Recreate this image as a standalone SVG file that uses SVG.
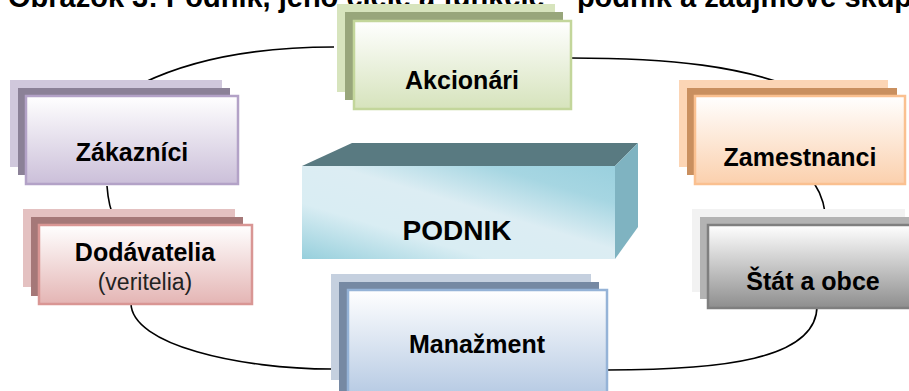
<svg xmlns="http://www.w3.org/2000/svg" width="909" height="391" viewBox="0 0 909 391">
<defs>
<linearGradient id="gGreen" x1="0" y1="0" x2="0" y2="1"><stop offset="0" stop-color="#ffffff"/><stop offset="1" stop-color="#d6e3bc"/></linearGradient>
<linearGradient id="gPurple" x1="0" y1="0" x2="0" y2="1"><stop offset="0" stop-color="#ffffff"/><stop offset="1" stop-color="#cbbfd9"/></linearGradient>
<linearGradient id="gRose" x1="0" y1="0" x2="0" y2="1"><stop offset="0" stop-color="#ffffff"/><stop offset="1" stop-color="#e4b5b4"/></linearGradient>
<linearGradient id="gBlue" x1="0" y1="0" x2="0" y2="1"><stop offset="0" stop-color="#ffffff"/><stop offset="1" stop-color="#b3c8e2"/></linearGradient>
<linearGradient id="gOrange" x1="0" y1="0" x2="0" y2="1"><stop offset="0" stop-color="#ffffff"/><stop offset="1" stop-color="#fbd0ad"/></linearGradient>
<linearGradient id="gGray" x1="0" y1="0" x2="0" y2="1"><stop offset="0" stop-color="#ffffff"/><stop offset="1" stop-color="#8e8e8e"/></linearGradient>
<linearGradient id="gCube" x1="0" y1="1" x2="1" y2="0"><stop offset="0" stop-color="#96cfdc"/><stop offset="0.3" stop-color="#d9edf3"/><stop offset="0.55" stop-color="#dcedf3"/><stop offset="0.8" stop-color="#a6d6e2"/><stop offset="1" stop-color="#9ad0de"/></linearGradient>
</defs>
<style>
.lbl{font-family:"Liberation Sans",Arial,sans-serif;font-weight:bold;font-size:25px;fill:#000;text-anchor:middle}
.sub{font-family:"Liberation Sans",Arial,sans-serif;font-size:23px;fill:#222;text-anchor:middle}
.title{font-family:"Liberation Sans",Arial,sans-serif;font-weight:bold;font-size:29px;fill:#000}
.conn{fill:none;stroke:#000;stroke-width:1.6}
.front{stroke-width:2.5}
</style>
<text class="title" x="8" y="7">Obrázok 3: Podnik, jeho ciele a funkcie – podnik a záujmové skupiny</text>
<g id="connectors">
<path class="conn" d="M143,83 C195,58 260,47 334,47"/>
<path class="conn" d="M571,58 C680,58 740,68 787,85"/>
<path class="conn" d="M107,186 C108,200 110,210 115,220"/>
<path class="conn" d="M131,303 C131,345 240,369 332,369"/>
<path class="conn" d="M607,370 C720,370 817,360 817,306"/>
<path class="conn" d="M814,183 C822,195 826,208 826,225"/>
</g>
<g id="podnik">
<polygon points="302,166 352,143 638,143 615,166" fill="#597a81"/>
<polygon points="615,166 638,143 638,227 615,259" fill="#7fb3c1"/>
<rect x="302" y="166" width="313" height="93" fill="url(#gCube)"/>
<text class="lbl" x="457" y="240" style="font-size:28px">PODNIK</text>
</g>
<g id="akcionari">
<rect x="337" y="4" width="218" height="88" fill="#d7e4bd"/>
<rect x="345" y="12" width="218" height="88" fill="#98a67b"/>
<rect x="354" y="21" width="217" height="88" fill="url(#gGreen)" stroke="#c3d69b" class="front"/>
<text class="lbl" x="462" y="89">Akcionári</text>
</g>
<g id="zakaznici">
<rect x="10" y="80" width="212" height="87" fill="#d0c8dc"/>
<rect x="18" y="88" width="212" height="87" fill="#8b8197"/>
<rect x="26" y="96" width="212" height="88" fill="url(#gPurple)" stroke="#b3a2c7" class="front"/>
<text class="lbl" x="132" y="161">Zákazníci</text>
</g>
<g id="dodavatelia">
<rect x="23" y="209" width="212" height="78" fill="#e4c1c1"/>
<rect x="31" y="217" width="212" height="79" fill="#a57878"/>
<rect x="39" y="225" width="213" height="79" fill="url(#gRose)" stroke="#d99694" class="front"/>
<text class="lbl" x="145" y="261">Dodávatelia</text>
<text class="sub" x="145" y="290">(veritelia)</text>
</g>
<g id="manazment">
<rect x="331" y="274" width="260" height="106" fill="#c5d0df"/>
<rect x="339" y="282" width="260" height="112" fill="#7689a3"/>
<rect x="348" y="290" width="259" height="110" fill="url(#gBlue)" stroke="#95b3d7" class="front"/>
<text class="lbl" x="477" y="353">Manažment</text>
</g>
<g id="zamestnanci">
<rect x="679" y="80" width="209" height="87" fill="#fcd5b5"/>
<rect x="687" y="88" width="210" height="87" fill="#c98f5f"/>
<rect x="695" y="96" width="210" height="88" fill="url(#gOrange)" stroke="#fac090" class="front"/>
<text class="lbl" x="800" y="166">Zamestnanci</text>
</g>
<g id="stat">
<rect x="692" y="209" width="213" height="83" fill="#f2f2f2"/>
<rect x="700" y="217" width="220" height="82" fill="#b3b3b3"/>
<rect x="708" y="225" width="215" height="83" fill="url(#gGray)" stroke="#7f7f7f" class="front"/>
<text class="lbl" x="813" y="290">Štát a obce</text>
</g>
</svg>
